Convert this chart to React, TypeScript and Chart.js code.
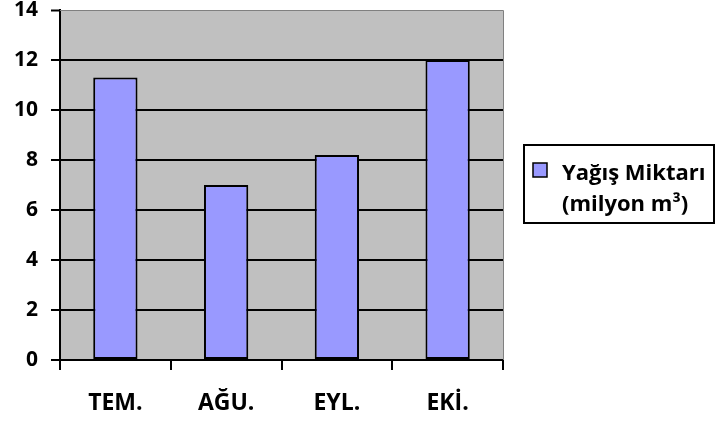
import React, { useEffect, useRef } from 'react';
import { Chart, registerables } from 'chart.js';

Chart.register(...registerables);

const categories = ['TEM.', 'AĞU.', 'EYL.', 'EKİ.'];
const rainfall = [11.3, 7.0, 8.2, 12.0];
const seriesName = ['Yağış Miktarı', '(milyon m³)'];
const yMin = 0;
const yMax = 14;
const yStep = 2;

const FONT = '"Open Sans", "Liberation Sans", sans-serif';
const BAR_FILL = '#9999FF';
const PLOT_BG = '#C0C0C0';

const plotBgPlugin = {
  id: 'plotBg',
  beforeDraw(chart: any) {
    const { ctx, chartArea } = chart;
    ctx.save();
    ctx.fillStyle = PLOT_BG;
    ctx.fillRect(chartArea.left, chartArea.top, chartArea.right - chartArea.left, chartArea.bottom - chartArea.top);
    ctx.restore();
  },
  afterDatasetsDraw(chart: any) {
    const { ctx, chartArea } = chart;
    ctx.save();
    ctx.strokeStyle = '#808080';
    ctx.lineWidth = 1;
    ctx.beginPath();
    ctx.moveTo(chartArea.left, chartArea.top + 0.5);
    ctx.lineTo(chartArea.right + 0.5, chartArea.top + 0.5);
    ctx.lineTo(chartArea.right + 0.5, chartArea.bottom);
    ctx.stroke();
    ctx.restore();
  },
};

const boxLegendPlugin = {
  id: 'boxLegend',
  afterDraw(chart: any) {
    const { ctx, chartArea } = chart;
    const ds = chart.data.datasets[0];
    const lines: string[] = ds.label;
    const x = chartArea.right + 21;
    const w = 190;
    const h = 78;
    const cy = (chartArea.top + chartArea.bottom) / 2;
    const y = cy - h / 2 - 1;
    ctx.save();
    ctx.fillStyle = '#ffffff';
    ctx.fillRect(x, y, w, h);
    ctx.strokeStyle = '#000';
    ctx.lineWidth = 2;
    ctx.strokeRect(x, y, w, h);
    // marker
    ctx.fillStyle = ds.backgroundColor;
    ctx.fillRect(x + 9, y + 18, 14, 14);
    ctx.lineWidth = 1.5;
    ctx.strokeRect(x + 9, y + 18, 14, 14);
    // text
    ctx.fillStyle = '#000';
    ctx.font = 'bold 22px ' + FONT;
    ctx.textAlign = 'left';
    ctx.textBaseline = 'alphabetic';
    const tx = x + 38;
    lines.forEach((line, i) => {
      ctx.fillText(line, tx, y + 35 + i * 31);
    });
    ctx.restore();
  },
};

export default function App() {
  const ref = useRef<HTMLCanvasElement | null>(null);
  useEffect(() => {
    document.body.style.margin = '0';
    const chart = new Chart(ref.current as HTMLCanvasElement, {
      type: 'bar',
      data: {
        labels: categories,
        datasets: [
          {
            label: seriesName as any,
            data: rainfall,
            backgroundColor: BAR_FILL,
            borderColor: '#000',
            borderWidth: 2,
            borderSkipped: false,
            barPercentage: 0.4,
            categoryPercentage: 1,
          },
        ],
      },
      options: {
        animation: false,
        responsive: false,
        devicePixelRatio: 1,
        layout: { padding: { top: 10, right: 212, left: 0, bottom: 0 } },
        plugins: { legend: { display: false }, tooltip: { enabled: false } },
        scales: {
          x: {
            afterFit: (s: any) => {
              s.height = 65;
              s.paddingLeft = 0;
              s.paddingRight = 0;
            },
            grid: {
              offset: true,
              drawOnChartArea: false,
              drawTicks: true,
              tickLength: 10,
              color: '#000',
              lineWidth: 2,
              tickWidth: 2,
            },
            border: { color: '#000', width: 2 },
            ticks: {
              color: '#000',
              font: { family: FONT, size: 23, weight: 'bold' },
              padding: 20,
            },
          },
          y: {
            min: yMin,
            max: yMax,
            afterFit: (s: any) => {
              s.width = 60;
              s.paddingTop = 0;
              s.paddingBottom = 0;
            },
            grid: {
              color: (c: any) => (c.tick && c.tick.value === yMax ? '#808080' : '#000'),
              lineWidth: (c: any) => (c.tick && c.tick.value === yMax ? 1 : 2),
              tickColor: '#000',
              tickWidth: 2,
              tickLength: 9,
            },
            border: { color: '#000', width: 2 },
            ticks: {
              stepSize: yStep,
              color: '#000',
              font: { family: FONT, size: 21, weight: 'bold' },
              padding: 13,
            },
          },
        },
      },
      plugins: [plotBgPlugin, boxLegendPlugin],
    });
    return () => chart.destroy();
  }, []);
  return (
    <div style={{ position: 'absolute', left: 0, top: 0, width: 715, height: 425, background: '#fff' }}>
      <canvas ref={ref} width={715} height={425} />
    </div>
  );
}
